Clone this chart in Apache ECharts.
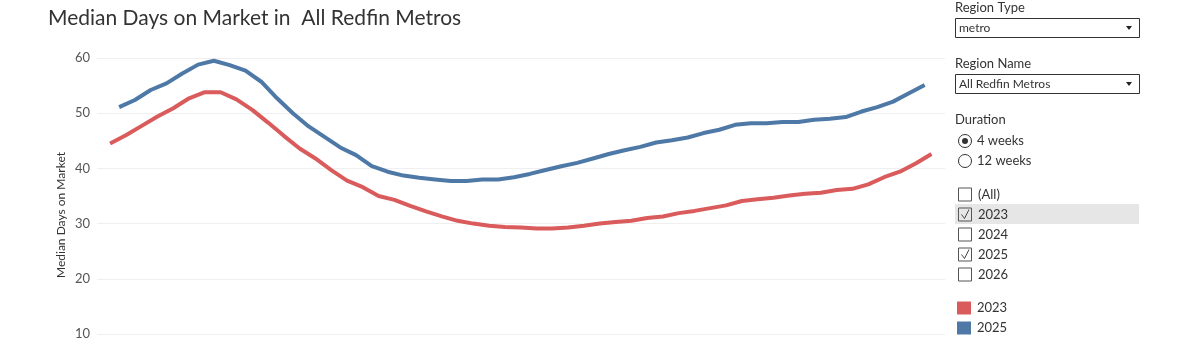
<!DOCTYPE html>
<html>
<head>
<meta charset="utf-8">
<script src="https://cdn.jsdelivr.net/npm/echarts@6/dist/echarts.min.js"></script>
<style>
html,body{margin:0;padding:0;background:#fff;}
#chart{width:1200px;height:357px;}
</style>
</head>
<body>
<div id="chart"></div>
<script>
// ---- Data (weekly median days on market, 4-week duration) ----
const firstWeekDay2023 = 1;   // week ending 2023-01-01 (day of year)
const firstWeekDay2025 = 5;   // week ending 2025-01-05 (day of year)
const values2023 = [44.5,46.0,47.7,49.4,50.9,52.7,53.8,53.8,52.5,50.6,
  48.3,45.9,43.6,41.8,39.7,37.8,36.6,35.0,34.3,33.2,
  32.2,31.3,30.5,30.0,29.6,29.4,29.3,29.1,29.1,29.3,
  29.6,30.0,30.3,30.5,31.0,31.3,31.9,32.3,32.8,33.3,
  34.1,34.4,34.7,35.1,35.4,35.6,36.1,36.3,37.1,38.4,
  39.4,40.9,42.6];
const values2025 = [51.1,52.4,54.2,55.4,57.2,58.8,59.5,58.7,57.7,55.7,
  52.7,50.0,47.6,45.7,43.8,42.4,40.4,39.4,38.7,38.3,
  38.0,37.7,37.7,38.0,38.0,38.4,39.0,39.7,40.4,41.0,
  41.8,42.6,43.3,43.9,44.7,45.1,45.6,46.4,47.0,47.9,
  48.2,48.2,48.4,48.4,48.8,49.0,49.3,50.3,51.1,52.1,
  53.6,55.1];
const yTicks = [10,20,30,40,50,60];
const seriesNames = ['2023','2025'];
const titleText = 'Median Days on Market in  All Redfin Metros';
const yAxisTitle = 'Median Days on Market';
const yearOptions = ['(All)','2023','2024','2025','2026'];
const yearChecked = [false,true,false,true,false];
const durationOptions = ['4 weeks','12 weeks'];

const RED = '#d95b5c', BLUE = '#4e79a7';
const FONT = 'Lato, "Open Sans", sans-serif';

function weekly(start, vals){ return vals.map((v,i)=>[start + 7*i, v]); }

const chart = echarts.init(document.getElementById('chart'));

const g = [];
// title
g.push({type:'text', left:48, top:8, style:{text:titleText, font:'21px '+FONT, fill:'#333'}});
// y axis title
g.push({type:'text', x:61, y:215, rotation:Math.PI/2,
  style:{text:yAxisTitle, font:'12px '+FONT, fill:'#333', align:'center', verticalAlign:'middle'}});

// right panel
const PX = 955, PW = 184;
function label(txt, y){ g.push({type:'text', x:PX, y:y, style:{text:txt, font:'13px '+FONT, fill:'#333', verticalAlign:'middle'}}); }
function dropdown(txt, y){
  g.push({type:'rect', shape:{x:PX+0.5, y:y+0.5, width:PW, height:19}, style:{fill:'#fff', stroke:'#333', lineWidth:1}});
  g.push({type:'text', x:PX+4, y:y+10, style:{text:txt, font:'12px '+FONT, fill:'#333', verticalAlign:'middle'}});
  g.push({type:'polygon', shape:{points:[[PX+PW-13,y+8],[PX+PW-7,y+8],[PX+PW-10,y+12]]}, style:{fill:'#222'}});
}
label('Region Type', 8);
dropdown('metro', 18);
label('Region Name', 64);
dropdown('All Redfin Metros', 74);
label('Duration', 120);
durationOptions.forEach((t,i)=>{
  const cy = 141 + 20*i;
  g.push({type:'circle', shape:{cx:965, cy:cy, r:6.5}, style:{fill:'#fff', stroke:'#333', lineWidth:1}});
  if(i===0) g.push({type:'circle', shape:{cx:965, cy:cy, r:3}, style:{fill:'#333'}});
  g.push({type:'text', x:977, y:cy, style:{text:t, font:'13px '+FONT, fill:'#333', verticalAlign:'middle'}});
});
// highlight row for 2023
g.push({type:'rect', shape:{x:955, y:204, width:184, height:20}, style:{fill:'#e6e6e6'}});
yearOptions.forEach((t,i)=>{
  const cy = 194.5 + 20*i;
  g.push({type:'rect', shape:{x:958.5, y:cy-6.5, width:13, height:13}, style:{fill:'none', stroke:'#555', lineWidth:1}});
  if(yearChecked[i]) g.push({type:'polyline', shape:{points:[[961.5,cy],[964.5,cy+4],[969,cy-5]]}, style:{stroke:'#444', lineWidth:1, fill:'none'}});
  g.push({type:'text', x:978, y:cy, style:{text:t, font:'13px '+FONT, fill:'#333', verticalAlign:'middle'}});
});
// colour legend
[RED, BLUE].forEach((c,i)=>{
  const cy = 308 + 20*i;
  g.push({type:'rect', shape:{x:957, y:cy-6.5, width:14, height:13}, style:{fill:c}});
  g.push({type:'text', x:977, y:cy, style:{text:seriesNames[i], font:'13px '+FONT, fill:'#333', verticalAlign:'middle'}});
});

chart.setOption({
  animation:false,
  backgroundColor:'#fff',
  grid:{left:97, right:255, top:58, bottom:23, containLabel:false},
  xAxis:{type:'value', min:-4.8, max:371, show:false},
  yAxis:{type:'value', min:10, max:60, interval:10,
    axisLine:{show:false}, axisTick:{show:false},
    axisLabel:{color:'#555', fontSize:13, fontFamily:FONT, margin:7},
    splitLine:{lineStyle:{color:'#efefef', width:1}}},
  series:[
    {name:seriesNames[0], type:'line', data:weekly(firstWeekDay2023, values2023), showSymbol:false,
     lineStyle:{color:RED, width:4}, itemStyle:{color:RED}, z:2},
    {name:seriesNames[1], type:'line', data:weekly(firstWeekDay2025, values2025), showSymbol:false,
     lineStyle:{color:BLUE, width:4}, itemStyle:{color:BLUE}, z:3}
  ],
  graphic:g
});
</script>
</body>
</html>
